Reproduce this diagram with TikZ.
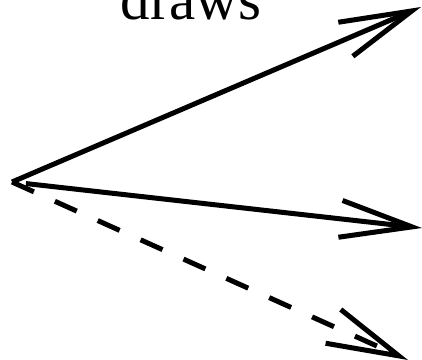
\documentclass[tikz,border=0pt]{standalone}
\usepackage{fontspec}
\setmainfont{Liberation Serif}
\usetikzlibrary{arrows.meta}
\tikzset{
  rel/.style    ={-{Straight Barb[length=72pt, width=37pt, sharp]}, line width=5pt},
  reldash/.style={rel, dash pattern=on 24pt off 23pt},
  lbl/.style    ={font=\fontsize{59}{60}\selectfont, inner sep=0pt, anchor=base},
}
\begin{document}
\begin{tikzpicture}[x=1pt, y=1pt]
    \clip (0,0) rectangle (422,359);
    \coordinate (src) at (12,177);
    \coordinate (t1) at (421,352);
    \coordinate (t2) at (422,131);
    \coordinate (t3) at (408,-1);
    \node[lbl] (verb) at (191,339) {draws};

    \draw[rel] (src) -- (t1);
    \draw[rel, shorten <=14pt] (src) -- (t2);
    \draw[reldash] (src) -- (t3);
  \end{tikzpicture}
\end{document}
